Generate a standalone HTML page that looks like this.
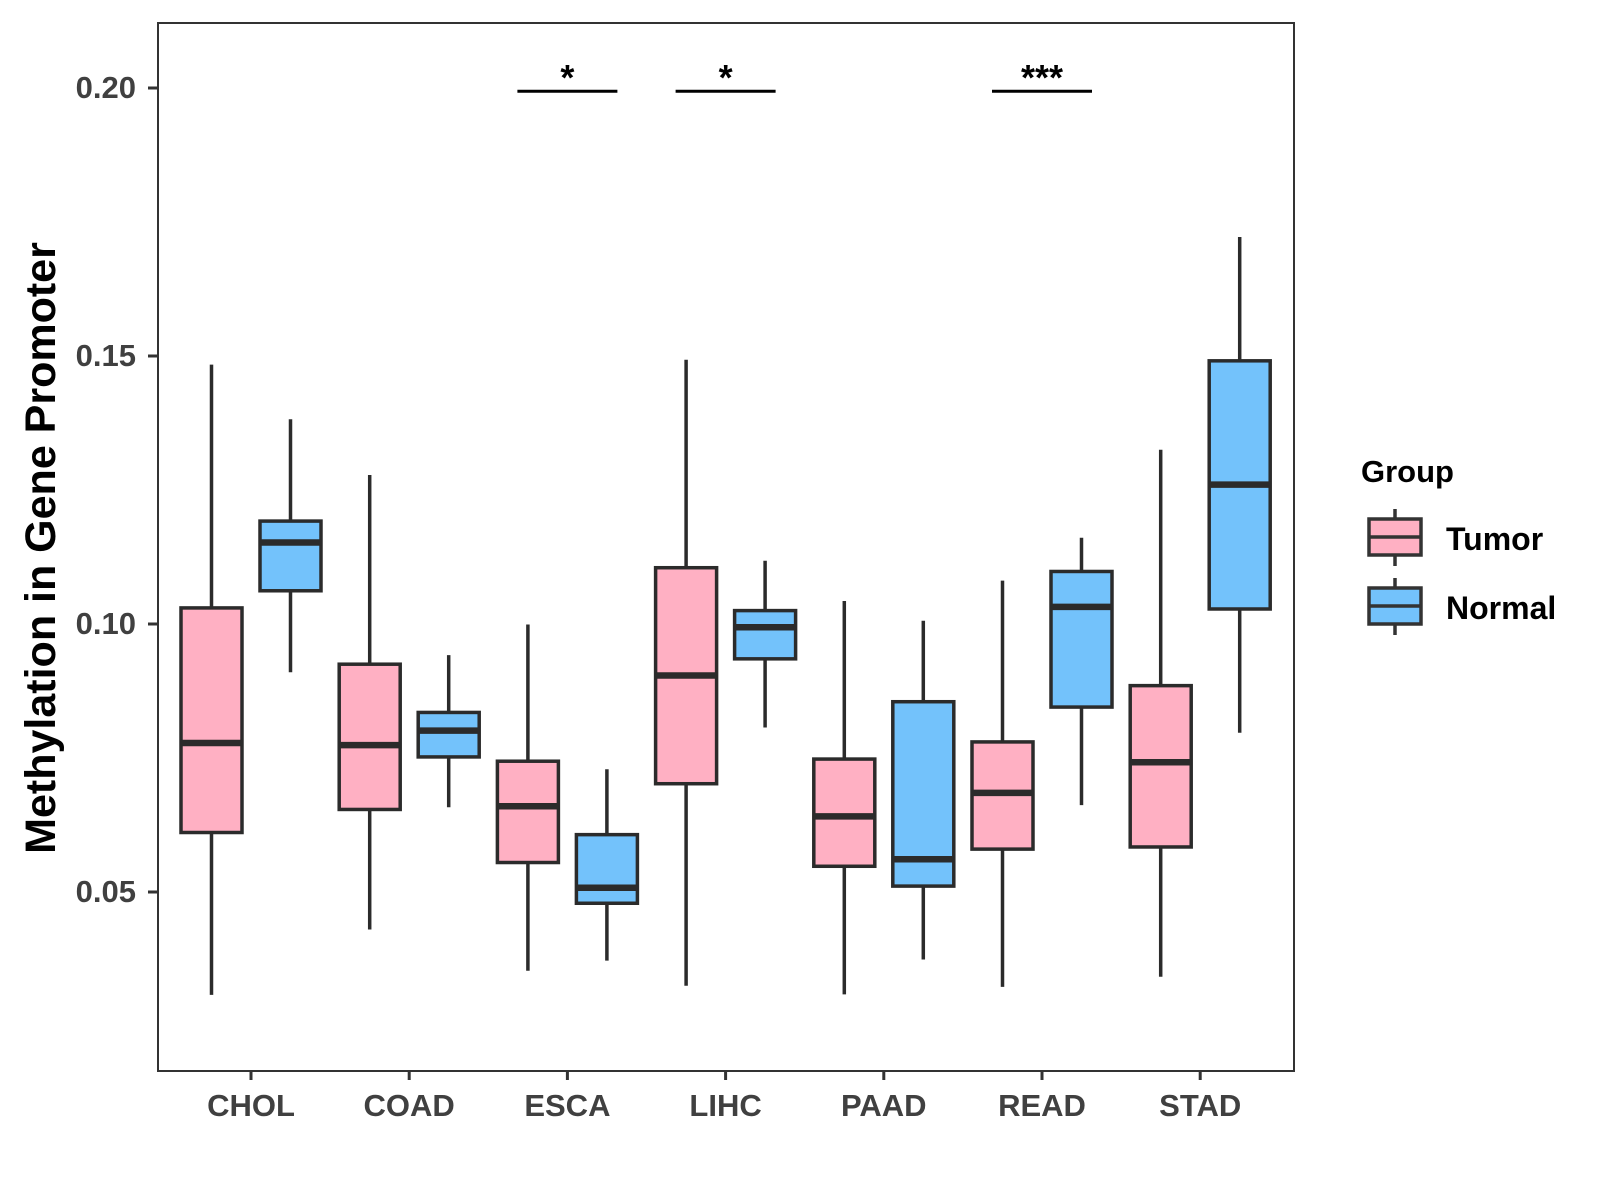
<!DOCTYPE html>
<html><head><meta charset="utf-8"><style>
body{margin:0;background:#fff}
svg{display:block;font-family:"Liberation Sans",Arial,sans-serif;font-weight:bold}
</style></head><body>
<svg id="chart" width="1600" height="1200" viewBox="0 0 1600 1200">
<rect x="0" y="0" width="1600" height="1200" fill="#fff"/>
<g id="marks"></g>
<rect x="158" y="23" width="1136" height="1048" fill="none" stroke="#333" stroke-width="2"/>
<g id="axes"></g>
<text x="0" y="0" transform="translate(55,548) rotate(-90)" text-anchor="middle" font-size="43" fill="#000">Methylation in Gene Promoter</text>
<g>
<text x="1361" y="482" font-size="31" fill="#000">Group</text>
<g>
<line x1="1395" y1="509" x2="1395" y2="566" stroke="#333" stroke-width="3.5"/>
<rect x="1369" y="519" width="52" height="36" fill="#FFB0C3" stroke="#333" stroke-width="3.5"/>
<line x1="1369" y1="537" x2="1421" y2="537" stroke="#333" stroke-width="3.5"/>
<text x="1446" y="550" font-size="32" fill="#000">Tumor</text>
</g>
<g>
<line x1="1395" y1="578" x2="1395" y2="635" stroke="#333" stroke-width="3.5"/>
<rect x="1369" y="588" width="52" height="36" fill="#73C2FB" stroke="#333" stroke-width="3.5"/>
<line x1="1369" y1="606" x2="1421" y2="606" stroke="#333" stroke-width="3.5"/>
<text x="1446" y="619" font-size="32" fill="#000">Normal</text>
</g>
</g>
</svg>
<script>
const categories = ["CHOL","COAD","ESCA","LIHC","PAAD","READ","STAD"];
// [min, q1, median, q3, max]
const tumorStats = [
 [0.0308,0.0611,0.0778,0.1030,0.1484],
 [0.0430,0.0654,0.0774,0.0925,0.1278],
 [0.0353,0.0555,0.0660,0.0744,0.0999],
 [0.0325,0.0702,0.0904,0.1105,0.1493],
 [0.0309,0.0548,0.0641,0.0748,0.1043],
 [0.0323,0.0580,0.0685,0.0780,0.1081],
 [0.0342,0.0584,0.0742,0.0885,0.1325]
];
const normalStats = [
 [0.0910,0.1062,0.1152,0.1192,0.1382],
 [0.0658,0.0752,0.0801,0.0835,0.0942],
 [0.0372,0.0479,0.0508,0.0607,0.0729],
 [0.0807,0.0935,0.0994,0.1025,0.1118],
 [0.0374,0.0511,0.0561,0.0855,0.1006],
 [0.0662,0.0845,0.1032,0.1098,0.1161],
 [0.0797,0.1028,0.1260,0.1491,0.1722]
];
const yTicks = [0.05,0.10,0.15,0.20];
const yTickLabels = ["0.05","0.10","0.15","0.20"];
const sigCategories = ["ESCA","LIHC","READ"];
const sigLabels = ["*","*","***"];
const sigLevel = 0.1994;

const NS="http://www.w3.org/2000/svg";
function y(v){return 88+(0.20-v)*5360;}
function x(i){return 251+i*158.2;}
function el(tag,attrs,parent){const e=document.createElementNS(NS,tag);for(const k in attrs)e.setAttribute(k,attrs[k]);parent.appendChild(e);return e;}
const marks=document.getElementById('marks');
const axes=document.getElementById('axes');
const half=30.5;
function drawBox(s,cx,fill,name){
  const g=el('g',{},marks);
  
  
  el('line',{x1:cx,x2:cx,y1:y(s[4]),y2:y(s[0]),stroke:'#2b2b2b','stroke-width':3.5},g);
  el('rect',{x:cx-half,y:y(s[3]),width:2*half,height:y(s[1])-y(s[3]),fill:fill,stroke:'#2b2b2b','stroke-width':3.5},g);
  el('line',{x1:cx-half,x2:cx+half,y1:y(s[2]),y2:y(s[2]),stroke:'#2b2b2b','stroke-width':6.5},g);
}
categories.forEach((c,i)=>{
  drawBox(tumorStats[i],x(i)-39.5,'#FFB0C3','box-tumor-'+c.toLowerCase());
  drawBox(normalStats[i],x(i)+39.5,'#73C2FB','box-normal-'+c.toLowerCase());
  const t=el('line',{x1:x(i),x2:x(i),y1:1071,y2:1080,stroke:'#333','stroke-width':3},axes);
  
  
  const lb=el('text',{x:x(i),y:1116,'text-anchor':'middle','font-size':31,fill:'#404040'},axes);
  
  
  lb.textContent=c;
});
yTicks.forEach((v,i)=>{
  const t=el('line',{x1:148,x2:158,y1:y(v),y2:y(v),stroke:'#333','stroke-width':3},axes);
  
  
  const lb=el('text',{x:136,y:y(v)+10,'text-anchor':'end','font-size':31,fill:'#404040'},axes);
  
  
  lb.textContent=yTickLabels[i];
});
sigCategories.forEach((c,k)=>{
  const i=categories.indexOf(c);
  const g=el('g',{},marks);
  
  
  el('line',{x1:x(i)-50,x2:x(i)+50,y1:y(sigLevel),y2:y(sigLevel),stroke:'#000','stroke-width':3},g);
  const t=el('text',{x:x(i),y:y(sigLevel)-1,'text-anchor':'middle','font-size':36,fill:'#000'},g);
  t.textContent=sigLabels[k];
});
</script>
</body></html>
